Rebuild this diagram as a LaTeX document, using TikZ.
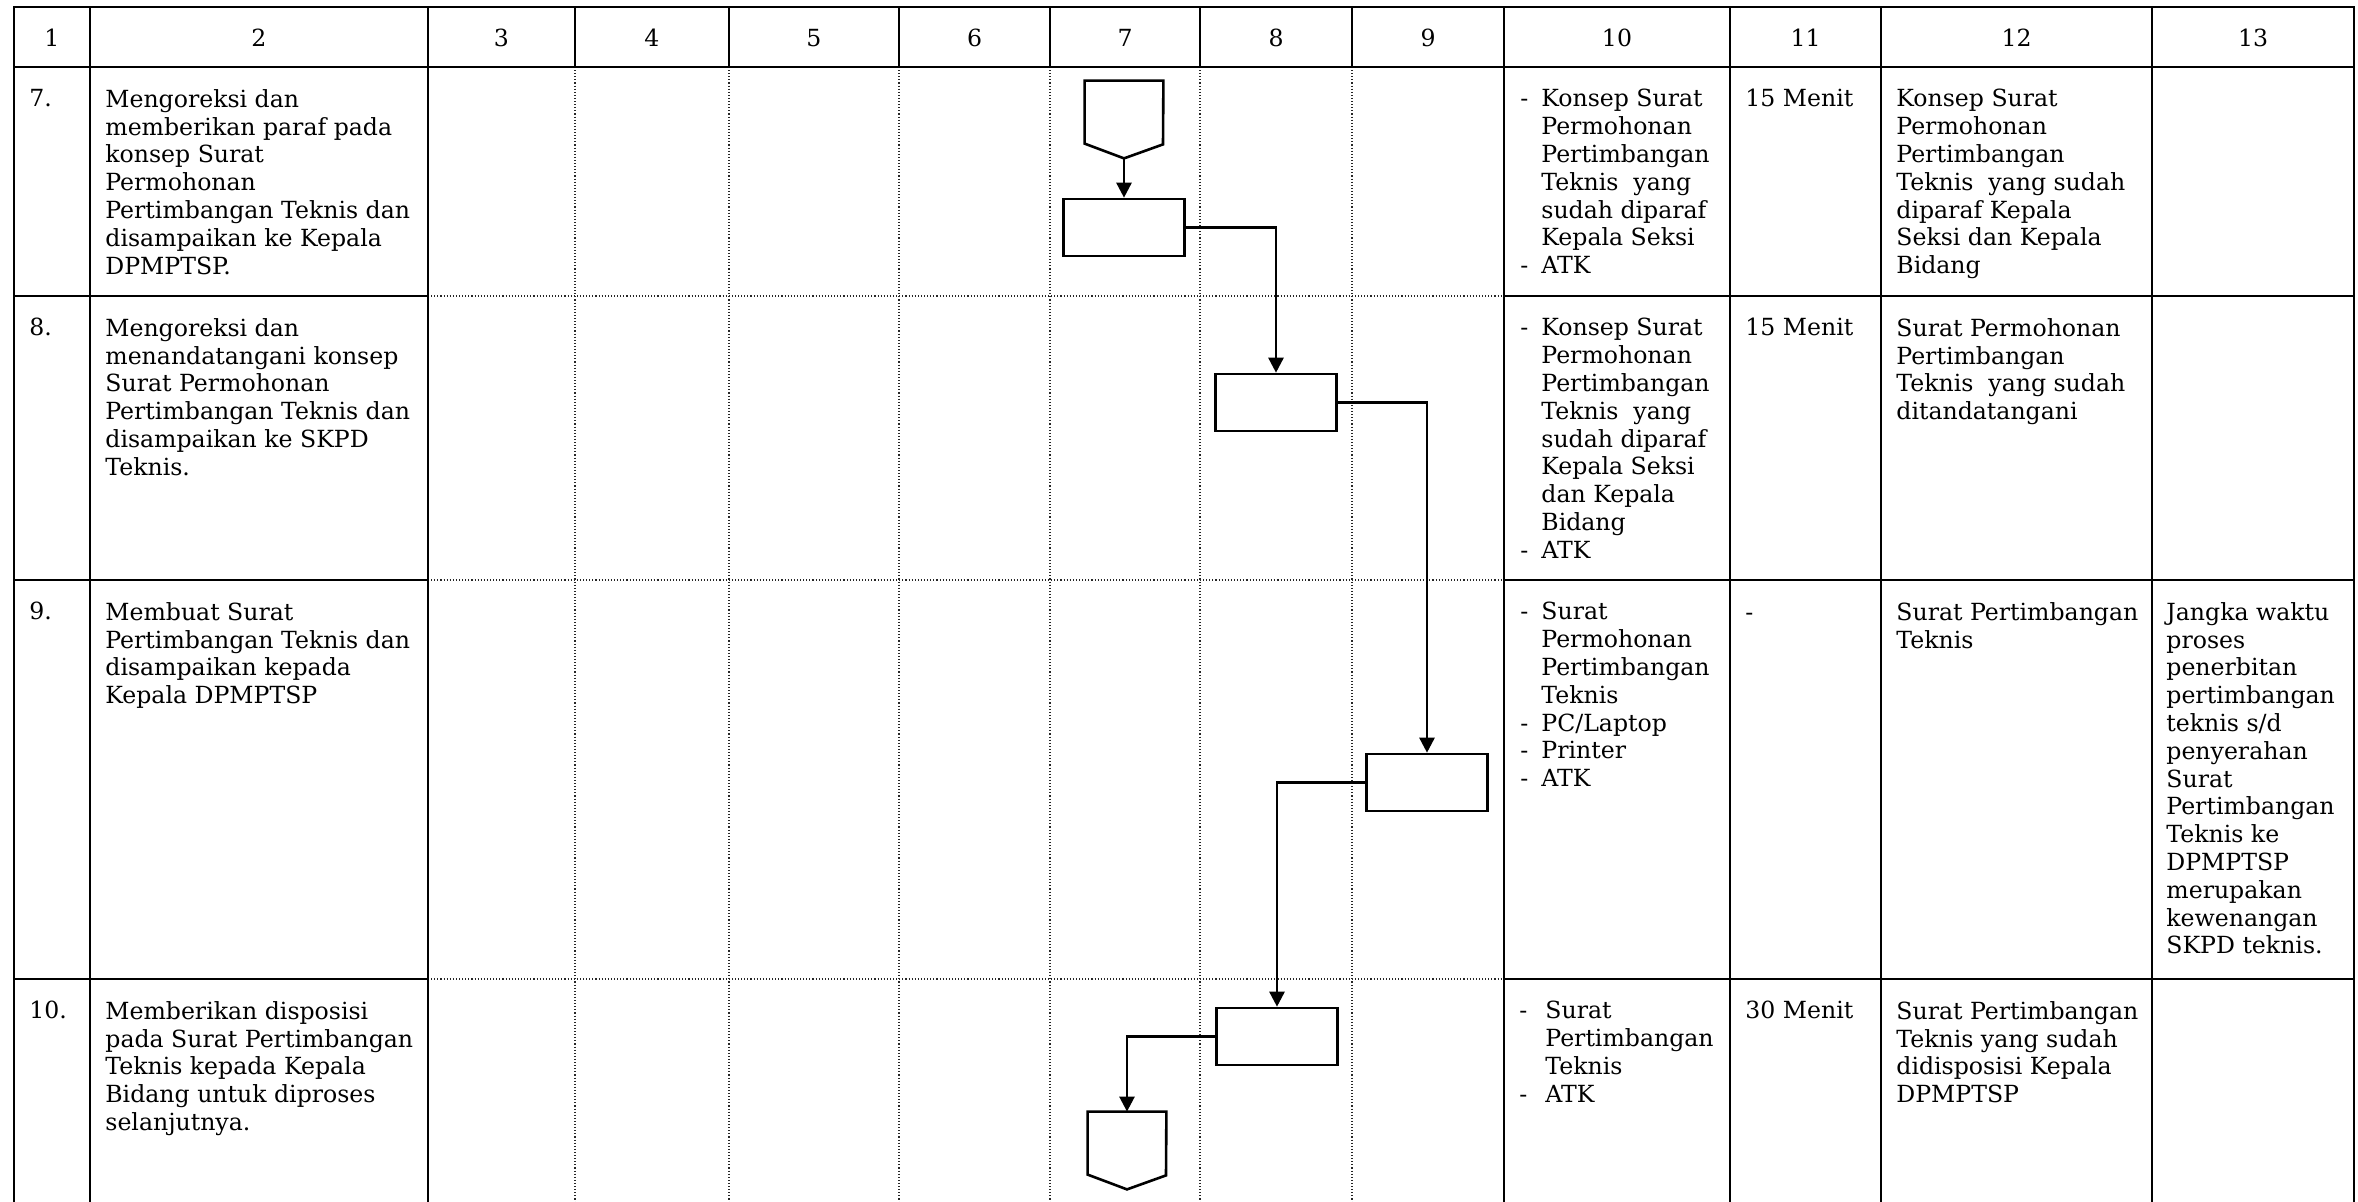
\documentclass[tikz,border=0pt]{standalone}
\usepackage{fontspec}
\setmainfont{DejaVu Serif}
\usepackage{tikz}
\usetikzlibrary{arrows.meta}

\newcommand{\lis}{\makebox[10.5pt][l]{-}}
\newcommand{\hng}{\hspace*{10.5pt}}
\newcommand{\lisw}{\makebox[13pt][l]{-}}
\newcommand{\hngw}{\hspace*{13pt}}

\begin{document}
\begin{tikzpicture}[x=0.5pt, y=-0.5pt,
        font=\fontsize{11.8}{13.9}\selectfont,
        solidline/.style={line width=1.35pt},
        dotline/.style={line width=0.55pt, densely dotted, black!85},
        procbox/.style={draw, line width=1.3pt, rectangle, minimum width=60.5pt, minimum height=28.5pt, inner sep=0pt},
        offpage/.style={rectangle, minimum width=39pt, minimum height=38.5pt, inner sep=0pt},
        txt/.style={anchor=north west, align=left, inner sep=0pt},
        hdr/.style={inner sep=0pt},
        arr/.style={line width=1.3pt, -{Triangle[width=7.5pt,length=7.5pt]}}]
        \useasboundingbox (0,0) rectangle (2358,1202);

        \draw[dotline] (575,67) -- (575,1202);
        \draw[dotline] (729,67) -- (729,1202);
        \draw[dotline] (899,67) -- (899,1202);
        \draw[dotline] (1050,67) -- (1050,1202);
        \draw[dotline] (1200,67) -- (1200,1202);
        \draw[dotline] (1352,67) -- (1352,1202);
        \draw[dotline] (428,296) -- (1504,296);
        \draw[dotline] (428,580) -- (1504,580);
        \draw[dotline] (428,979) -- (1504,979);

        \draw[solidline] (14,1202) -- (14,7) -- (2354,7) -- (2354,1202);
        \draw[solidline] (14,67) -- (2354,67);
        \draw[solidline] (90,7) -- (90,1202);
        \draw[solidline] (428,7) -- (428,1202);
        \draw[solidline] (1504,7) -- (1504,1202);
        \draw[solidline] (1730,7) -- (1730,1202);
        \draw[solidline] (1881,7) -- (1881,1202);
        \draw[solidline] (2152,7) -- (2152,1202);
        \draw[solidline] (575,7) -- (575,67);
        \draw[solidline] (729,7) -- (729,67);
        \draw[solidline] (899,7) -- (899,67);
        \draw[solidline] (1050,7) -- (1050,67);
        \draw[solidline] (1200,7) -- (1200,67);
        \draw[solidline] (1352,7) -- (1352,67);
        \draw[solidline] (14,296) -- (428,296);
        \draw[solidline] (1504,296) -- (2354,296);
        \draw[solidline] (14,580) -- (428,580);
        \draw[solidline] (1504,580) -- (2354,580);
        \draw[solidline] (14,979) -- (428,979);
        \draw[solidline] (1504,979) -- (2354,979);

        \node[hdr] (h1) at (52,38) {1};
        \node[hdr] (h2) at (259,38) {2};
        \node[hdr] (h3) at (501.5,38) {3};
        \node[hdr] (h4) at (652,38) {4};
        \node[hdr] (h5) at (814,38) {5};
        \node[hdr] (h6) at (974.5,38) {6};
        \node[hdr] (h7) at (1125,38) {7};
        \node[hdr] (h8) at (1276,38) {8};
        \node[hdr] (h9) at (1428,38) {9};
        \node[hdr] (h10) at (1617,38) {10};
        \node[hdr] (h11) at (1805.5,38) {11};
        \node[hdr] (h12) at (2016.5,38) {12};
        \node[hdr] (h13) at (2253,38) {13};

        \node[txt] (no7) at (29,89) {7.};
        \node[txt] (act7) at (105,89) {Mengoreksi dan\\memberikan paraf pada\\konsep Surat\\Permohonan\\Pertimbangan Teknis dan\\disampaikan ke Kepala\\DPMPTSP.};
        \node[txt] (kel7) at (1520,89) {\lis Konsep Surat\\\hng Permohonan\\\hng Pertimbangan\\\hng Teknis\ \ yang\\\hng sudah diparaf\\\hng Kepala Seksi\\\lis ATK};
        \node[txt] (wkt7) at (1745,89) {15 Menit};
        \node[txt] (out7) at (1896,89) {Konsep Surat\\Permohonan\\Pertimbangan\\Teknis\ \ yang sudah\\diparaf Kepala\\Seksi dan Kepala\\Bidang};

        \node[txt] (no8) at (29,318) {8.};
        \node[txt] (act8) at (105,318) {Mengoreksi dan\\menandatangani konsep\\Surat Permohonan\\Pertimbangan Teknis dan\\disampaikan ke SKPD\\Teknis.};
        \node[txt] (kel8) at (1520,318) {\lis Konsep Surat\\\hng Permohonan\\\hng Pertimbangan\\\hng Teknis\ \ yang\\\hng sudah diparaf\\\hng Kepala Seksi\\\hng dan Kepala\\\hng Bidang\\\lis ATK};
        \node[txt] (wkt8) at (1745,318) {15 Menit};
        \node[txt] (out8) at (1896,318) {Surat Permohonan\\Pertimbangan\\Teknis\ \ yang sudah\\ditandatangani};

        \node[txt] (no9) at (29,602) {9.};
        \node[txt] (act9) at (105,602) {Membuat Surat\\Pertimbangan Teknis dan\\disampaikan kepada\\Kepala DPMPTSP};
        \node[txt] (kel9) at (1520,602) {\lis Surat\\\hng Permohonan\\\hng Pertimbangan\\\hng Teknis\\\lis PC/Laptop\\\lis Printer\\\lis ATK};
        \node[txt] (wkt9) at (1745,602) {\vphantom{Tk}-};
        \node[txt] (out9) at (1896,602) {Surat Pertimbangan\\Teknis};
        \node[txt] (ket9) at (2166,602) {Jangka waktu\\proses\\penerbitan\\pertimbangan\\teknis s/d\\penyerahan\\Surat\\Pertimbangan\\Teknis ke\\DPMPTSP\\merupakan\\kewenangan\\SKPD teknis.};

        \node[txt] (no10) at (29,1001) {10.};
        \node[txt] (act10) at (105,1001) {Memberikan disposisi\\pada Surat Pertimbangan\\Teknis kepada Kepala\\Bidang untuk diproses\\selanjutnya.};
        \node[txt] (kel10) at (1519,1001) {\lisw Surat\\\hngw Pertimbangan\\\hngw Teknis\\\lisw ATK};
        \node[txt] (wkt10) at (1745,1001) {30 Menit};
        \node[txt] (out10) at (1896,1001) {Surat Pertimbangan\\Teknis yang sudah\\didisposisi Kepala\\DPMPTSP};

        \node[offpage] (p7) at (1124,119.5) {};
        \draw[line width=1.3pt] (p7.south) -- ++(39,-14) -- (p7.north east) -- (p7.north west) -- ++(0,63) -- cycle;
        \node[procbox] (b7) at (1124,227.5) {};
        \node[procbox] (b8) at (1276,402.5) {};
        \node[procbox] (b9) at (1427,782.5) {};
        \node[procbox] (b10) at (1277,1036.5) {};
        \node[offpage] (p10) at (1127,1150.5) {};
        \draw[line width=1.3pt] (p10.south) -- ++(39,-14) -- (p10.north east) -- (p10.north west) -- ++(0,63) -- cycle;

        \draw[arr] (p7.south) -- (b7.north);
        \draw[arr] (b7.east) -| (b8.north);
        \draw[arr] (b8.east) -| (b9.north);
        \draw[arr] (b9.west) -| (b10.north);
        \draw[arr] (b10.west) -| (p10.north);
    \end{tikzpicture}
\end{document}
